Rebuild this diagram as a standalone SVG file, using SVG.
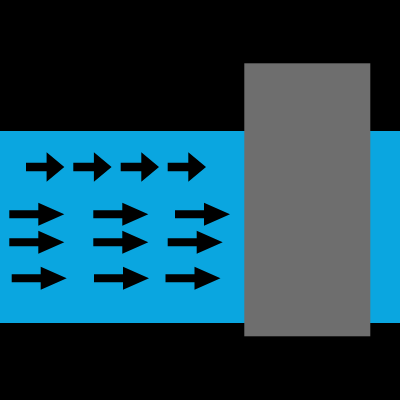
<svg xmlns="http://www.w3.org/2000/svg" xmlns:xlink="http://www.w3.org/1999/xlink" width="400" height="400" viewBox="0 0 400 400">
  <defs>
    <path id="sa" d="M0,-4.3 H20.6 V-14.7 L38.3,0 L20.6,14.7 V4.3 H0 Z" fill="#000"/>
    <path id="la" d="M0,-4 H29 V-11.5 L55,0 L29,11.5 V4 H0 Z" fill="#000"/>
  </defs>
  <rect width="400" height="400" fill="#000"/>
  <rect id="flow" x="0" y="131" width="400" height="192" fill="#0aa6e0"/>
  <g id="arrows">
    <use xlink:href="#sa" x="26" y="167"/>
    <use xlink:href="#sa" x="73.3" y="167"/>
    <use xlink:href="#sa" x="120.7" y="167"/>
    <use xlink:href="#sa" x="167.7" y="167"/>
    <use xlink:href="#la" x="9.3" y="214.3"/>
    <use xlink:href="#la" x="93.3" y="214.3"/>
    <use xlink:href="#la" x="175" y="214.3"/>
    <use xlink:href="#la" x="9.3" y="242.3"/>
    <use xlink:href="#la" x="93.3" y="242.3"/>
    <use xlink:href="#la" x="167.7" y="242.3"/>
    <use xlink:href="#la" x="11.7" y="278.3"/>
    <use xlink:href="#la" x="94" y="278.3"/>
    <use xlink:href="#la" x="165.5" y="278.3"/>
  </g>
  <rect id="block" x="244.3" y="63.3" width="126" height="273" fill="#6e6e6e"/>
</svg>
